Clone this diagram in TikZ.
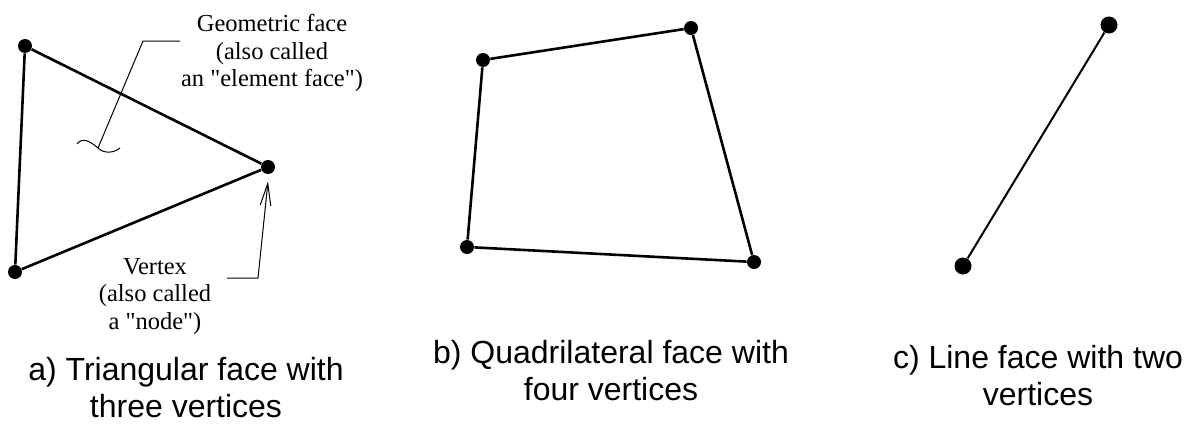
\documentclass[tikz,border=0pt]{standalone}
\usepackage{fontspec}
\setmainfont{Liberation Serif}
\newfontfamily\capfont{Liberation Sans}
\usepackage{tikz}
\usetikzlibrary{arrows.meta}

\begin{document}
\begin{tikzpicture}[
  x=0.5pt, y=-0.5pt,
  every node/.style={align=center, inner sep=0pt},
  vtx/.style={circle, fill=black, minimum size=7pt},
  bigvtx/.style={circle, fill=black, minimum size=8.5pt},
  edge/.style={line width=1.3pt},
  thinedge/.style={line width=1pt},
  leader/.style={line width=0.5pt},
  pointer/.style={line width=0.5pt, -{Straight Barb[length=11pt, width=5.3pt]}},
  note/.style={font=\fontsize{12.25}{13.75}\selectfont},
  caption/.style={font=\capfont\fontsize{16}{18.5}\selectfont}
]
\useasboundingbox (0,0) rectangle (1188,423);

% a) triangle
\node[vtx] (ta) at (25,46)   {};
\node[vtx] (tb) at (268,167) {};
\node[vtx] (tc) at (15,272)  {};
\draw[edge] (ta) -- (tb) -- (tc) -- (ta);

\node[note, anchor=north] (gface)  at (272,14)
  {Geometric face\\(also called\\an \textquotedbl element face\textquotedbl)};
\node[note, anchor=north] (vlabel) at (155,258)
  {Vertex\\(also called\\a \textquotedbl node\textquotedbl)};

\coordinate (gtail) at (180,41);
\draw[leader] (gtail) -- (143,41) -- (98,148);
\draw[leader] (77,144) .. controls (82,137) and (90,141) .. (98,148)
  .. controls (104,154) and (114,153) .. (120,148);

\coordinate (vtail) at (227,278);
\draw[pointer] (vtail) -- (258,278) -- ([yshift=-3.5pt]tb.south);

% b) quadrilateral
\node[vtx] (qa) at (483,60)  {};
\node[vtx] (qb) at (691,28)  {};
\node[vtx] (qc) at (754,262) {};
\node[vtx] (qd) at (467,247) {};
\draw[edge] (qa) -- (qb) -- (qc) -- (qd) -- (qa);

% c) line
\node[bigvtx] (la) at (1109,25) {};
\node[bigvtx] (lb) at (963,266) {};
\draw[thinedge] (la) -- (lb);

\node[caption, anchor=north] (capa) at (186,357)  {a) Triangular face with\\three vertices};
\node[caption, anchor=north] (capb) at (611,340)  {b) Quadrilateral face with\\four vertices};
\node[caption, anchor=north] (capc) at (1038,345) {c) Line face with two\\vertices};

\end{tikzpicture}
\end{document}
